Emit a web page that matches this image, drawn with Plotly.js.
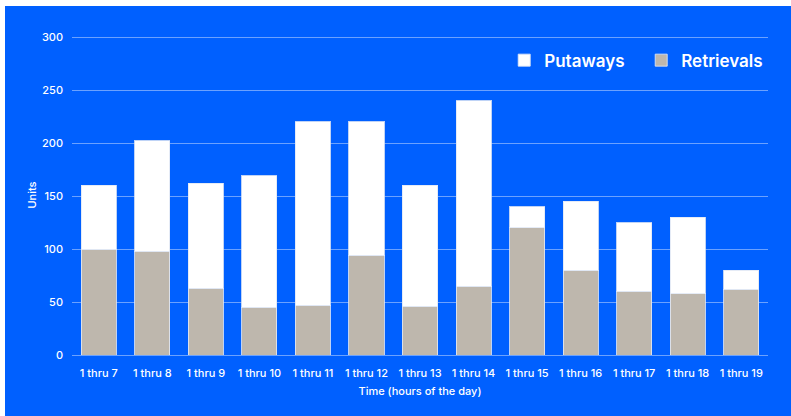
<!DOCTYPE html>
<html>
<head>
<meta charset="utf-8">
<script src="https://cdn.plot.ly/plotly-3.0.1.min.js"></script>
<style>
  html, body { margin: 0; padding: 0; background: #ffffff; }
  #chart { position: absolute; left: 5px; top: 6px; width: 786px; height: 410px; }
</style>
</head>
<body>
<div id="chart"></div>
<script>
// Hourly windows (cumulative from hour 1)
const categories = ["1 thru 7", "1 thru 8", "1 thru 9", "1 thru 10", "1 thru 11", "1 thru 12",
                    "1 thru 13", "1 thru 14", "1 thru 15", "1 thru 16", "1 thru 17", "1 thru 18", "1 thru 19"];
// Units retrieved in each window
const retrievals = [100, 98, 63, 45, 47, 94, 46, 65, 120, 80, 60, 58, 62];
// Units put away in each window (stacked above retrievals)
const putaways = [60, 104, 99, 124, 173, 126, 114, 175, 20, 65, 65, 72, 18];
const yTicks = [0, 50, 100, 150, 200, 250, 300];

const blue = "#0060FF";
const grid = "rgba(255,255,255,0.42)";
const edge = "rgba(225,232,245,0.85)";

const traces = [
  {
    type: "bar", name: "Retrievals", x: categories, y: retrievals,
    marker: { color: "#BEB7AD", line: { color: edge, width: 1 } },
    hoverinfo: "x+y+name"
  },
  {
    type: "bar", name: "Putaways", x: categories, y: putaways,
    marker: { color: "#FFFFFF", line: { color: edge, width: 1 } },
    hoverinfo: "x+y+name"
  }
];

const layout = {
  width: 786, height: 410,
  paper_bgcolor: blue, plot_bgcolor: blue,
  margin: { l: 67, r: 23, t: 29, b: 61, autoexpand: false },
  barmode: "stack",
  bargap: 0.345,
  font: { family: "Inter, 'Noto Sans', sans-serif", color: "#FFFFFF", size: 11 },
  showlegend: true,
  legend: {
    orientation: "h", traceorder: "reversed",
    x: 0.621, xanchor: "left", y: 0.92, yanchor: "middle",
    bgcolor: "rgba(0,0,0,0)",
    font: { size: 17, color: "#FFFFFF", weight: 600 },
    entrywidth: 92, entrywidthmode: "pixels",
    itemclick: false
  },
  xaxis: {
    type: "category",
    showgrid: false, showline: false, zeroline: false,
    ticklabelstandoff: 10,
    tickfont: { size: 11, color: "#FFFFFF", weight: 500 },
    title: { text: "Time (hours of the day)", font: { size: 11, color: "#FFFFFF", weight: 500 }, standoff: 8 }
  },
  yaxis: {
    range: [0, 302],
    tickvals: yTicks, ticktext: yTicks.map(String),
    showgrid: true, gridcolor: grid, gridwidth: 1,
    zeroline: true, zerolinecolor: grid, zerolinewidth: 1,
    showline: false,
    ticklabelstandoff: 8,
    tickfont: { size: 11, color: "#FFFFFF", weight: 500 },
    title: { text: "Units", font: { size: 11, color: "#FFFFFF", weight: 500 }, standoff: 3 }
  }
};

Plotly.newPlot("chart", traces, layout, { displayModeBar: false });
</script>
</body>
</html>
